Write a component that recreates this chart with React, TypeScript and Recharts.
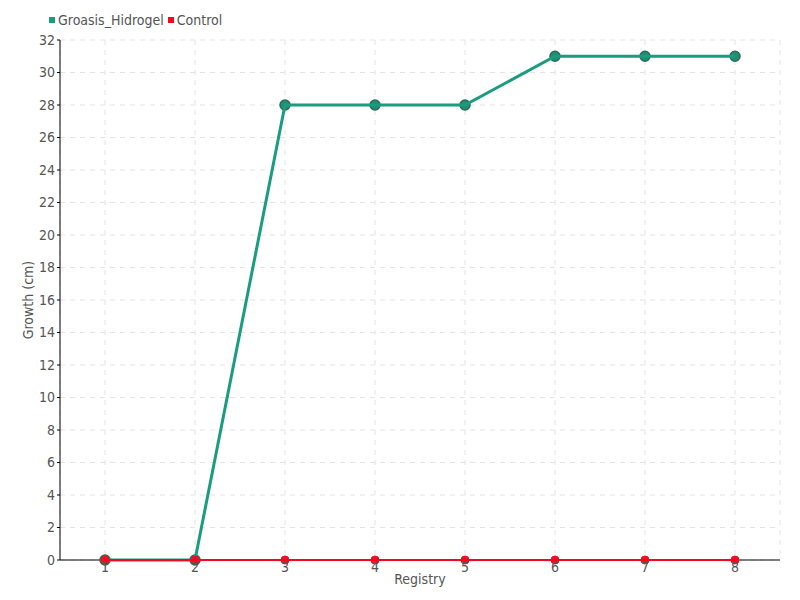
import { LineChart, Line, XAxis, YAxis, CartesianGrid } from 'recharts';

const registry = ['1', '2', '3', '4', '5', '6', '7', '8'];
const groasisHidrogel = [0, 0, 28, 28, 28, 31, 31, 31];
const control = [0, 0, 0, 0, 0, 0, 0, 0];
const yTicks = [0, 2, 4, 6, 8, 10, 12, 14, 16, 18, 20, 22, 24, 26, 28, 30, 32];

const data = registry.map((r, i) => ({
  registry: r,
  Groasis_Hidrogel: groasisHidrogel[i],
  Control: control[i],
}));

const FONT = '"DejaVu Sans", sans-serif';
const GREEN = '#1a9c7f';
const RED = '#f5081f';
const textStyle = { fontStretch: 'condensed' as const };

function LegendBox() {
  const items = [
    { name: 'Groasis_Hidrogel', color: GREEN },
    { name: 'Control', color: RED },
  ];
  return (
    <div
      style={{
        position: 'absolute',
        top: 12,
        left: 49,
        display: 'flex',
        fontFamily: FONT,
        fontStretch: 'condensed',
        fontSize: 14,
        color: '#555',
      }}
    >
      {items.map((it) => (
        <div key={it.name} style={{ display: 'flex', alignItems: 'center', marginRight: 4 }}>
          <span style={{ width: 6, height: 6, background: it.color, display: 'inline-block', marginRight: 3 }} />
          {it.name}
        </div>
      ))}
    </div>
  );
}

export default function App() {
  return (
    <div style={{ position: 'absolute', left: 0, top: 0, width: 800, height: 600, background: '#fff' }}>
      <LineChart width={800} height={600} data={data} margin={{ top: 40, right: 20, bottom: 10, left: 0 }}>
        <CartesianGrid stroke="#e4e4e4" strokeDasharray="5 5" />
        <XAxis
          dataKey="registry"
          height={30}
          padding={{ left: 45, right: 45 }}
          stroke="#000"
          tickLine={false}
          tickSize={0}
          tickMargin={2}
          tick={{ fill: '#555', fontSize: 14, fontFamily: FONT, style: textStyle }}
          label={{ value: 'Registry', position: 'insideBottom', offset: 6, fill: '#555', fontSize: 14, fontFamily: FONT, style: textStyle }}
        />
        <YAxis
          width={60}
          domain={[0, 32]}
          ticks={yTicks}
          interval={0}
          stroke="#000"
          tickSize={3}
          tickMargin={2}
          tick={{ fill: '#555', fontSize: 14, fontFamily: FONT, style: textStyle }}
          label={{
            value: 'Growth (cm)',
            angle: -90,
            position: 'insideLeft',
            offset: 28,
            fill: '#555',
            fontSize: 14,
            fontFamily: FONT,
            style: { textAnchor: 'middle', fontStretch: 'condensed' },
          }}
        />
        <Line
          type="linear"
          dataKey="Groasis_Hidrogel"
          stroke={GREEN}
          strokeWidth={3}
          dot={{ r: 5, fill: '#1f8f72', stroke: '#2b6b57', strokeWidth: 1.5 }}
          isAnimationActive={false}
          zIndex={600}
        />
        <Line
          type="linear"
          dataKey="Control"
          stroke={RED}
          strokeWidth={2}
          dot={{ r: 4, fill: '#ee1122', stroke: '#ee1122', strokeWidth: 1 }}
          isAnimationActive={false}
          zIndex={610}
        />
      </LineChart>
      <LegendBox />
    </div>
  );
}
